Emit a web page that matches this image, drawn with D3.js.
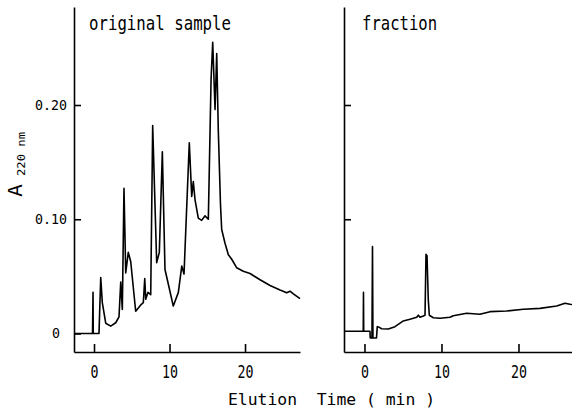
<!DOCTYPE html>
<html>
<head>
<meta charset="utf-8">
<script src="https://cdn.jsdelivr.net/npm/d3@7"></script>
<style>
body { margin: 0; background: #fff; }
text { font-family: "DejaVu Sans Mono", monospace; fill: #000; }
</style>
</head>
<body>
<svg width="572" height="411"></svg>
<script>
// original sample trace (min, absorbance)
var origTime = [-2.65, -0.2, -0.13, -0.1, 0.66, 0.89, 1.10, 1.55, 2.21, 2.87, 3.31, 3.54, 3.75, 3.97, 4.20,
  4.54, 4.86, 5.52, 6.19, 6.53, 6.72, 6.85, 7.15, 7.51, 7.77, 8.30, 8.65, 9.05, 9.40, 9.71, 10.50,
  11.17, 11.62, 11.92, 12.62, 12.94, 13.15, 13.38, 13.81, 14.26, 14.70, 15.14, 15.50, 15.72, 16.03,
  16.25, 16.46, 16.75, 16.91, 17.35, 17.79, 18.24, 18.90, 19.77, 20.66, 21.99, 23.31, 24.64, 25.52,
  25.96, 26.40, 27.28];
var origAbs = [0, 0, 0.036, 0, 0, 0.049, 0.027, 0.009, 0.0064, 0.0094, 0.0146, 0.045, 0.021, 0.127, 0.053,
  0.071, 0.063, 0.0195, 0.025, 0.027, 0.048, 0.030, 0.036, 0.034, 0.182, 0.062, 0.071, 0.159, 0.056, 0.047, 0.024,
  0.036, 0.059, 0.052, 0.167, 0.120, 0.133, 0.117, 0.101, 0.099, 0.103, 0.100, 0.222, 0.255, 0.196,
  0.245, 0.178, 0.113, 0.091, 0.079, 0.069, 0.065, 0.0575, 0.0545, 0.0525, 0.047, 0.042, 0.038, 0.0356,
  0.037, 0.0347, 0.0306];

// fraction trace
var fracTime = [-2.66, -0.16, -0.13, -0.1, 0.71, 0.75, 0.97, 1.04, 1.10, 1.56, 1.66, 1.92, 2.23, 3.09, 3.96,
  5.04, 5.91, 6.78, 6.99, 7.21, 7.64, 7.86, 7.99, 8.12, 8.29, 8.42, 8.94, 9.81, 11.10, 11.53, 13.27,
  15.0, 16.3, 18.47, 20.62, 22.79, 24.96, 26.04, 26.69, 26.95];
var fracAbs = [0.002, 0.002, 0.036, 0.002, 0.002, -0.004, -0.004, 0.076, -0.004, -0.004, 0.006, 0.0054, 0.0042, 0.0039, 0.006,
  0.011, 0.0124, 0.0142, 0.016, 0.0142, 0.0153, 0.016, 0.0693, 0.068, 0.029, 0.016, 0.0138, 0.0133, 0.0142, 0.0156, 0.0177,
  0.0168, 0.0191, 0.0197, 0.0212, 0.022, 0.024, 0.0265, 0.0256, 0.0254];

var xTicks = [0, 10, 20];
var yTicks = [0, 0.1, 0.2];
var yTickLabels = ["0", "0.10", "0.20"];
var panelTitles = ["original sample", "fraction"];

var svg = d3.select("svg");

var y = d3.scaleLinear().domain([-0.0162, 0.2858]).range([352, 7]);

var panels = [
  { title: panelTitles[0], t: origTime, a: origAbs, x: d3.scaleLinear().domain([-2.65, 27.28]).range([74, 300]),
    titleX: 89, titleLen: 142, labels: true },
  { title: panelTitles[1], t: fracTime, a: fracAbs, x: d3.scaleLinear().domain([-2.66, 26.95]).range([344, 572]),
    titleX: 362, titleLen: 75, labels: false }
];

panels.forEach(function(p) {
  var g = svg.append("g");

  // bottom axis, ticks point up into the plot
  var xa = g.append("g")
    .attr("transform", "translate(0,352)")
    .call(d3.axisBottom(p.x).tickValues(xTicks).tickSizeInner(-8).tickSizeOuter(0).tickPadding(13));
  xa.selectAll("text")
    .style("font-size", "18px")
    .attr("textLength", function(d) { return String(d).length * 8; })
    .attr("lengthAdjust", "spacingAndGlyphs");

  // left axis
  var ya = g.append("g")
    .attr("transform", "translate(" + p.x.range()[0] + ",0)")
    .call(d3.axisLeft(y).tickValues(p.labels ? yTicks : yTicks.slice(1))
      .tickSizeInner(-7).tickSizeOuter(0).tickPadding(7)
      .tickFormat(function(d, i) { return p.labels ? yTickLabels[i] : ""; }));
  ya.selectAll("text")
    .style("font-size", "14px")
    .attr("x", function(d) { return d === 0 ? -14 : -7; })
    .attr("textLength", function(d, i) { return p.labels ? yTickLabels[i].length * 8 : 0; })
    .attr("lengthAdjust", "spacingAndGlyphs");

  [xa, ya].forEach(function(a) {
    a.select(".domain").attr("stroke-width", 1.6);
    a.selectAll(".tick line").attr("stroke-width", 1.6);
  });

  g.append("path")
    .datum(d3.zip(p.t, p.a))
    .attr("fill", "none")
    .attr("stroke", "#000")
    .attr("stroke-width", 1.6)
    .attr("stroke-linejoin", "round")
    .attr("d", d3.line().x(function(d) { return p.x(d[0]); }).y(function(d) { return y(d[1]); }));

  g.append("text")
    .attr("x", p.titleX)
    .attr("y", 30)
    .style("font-size", "20px")
    .attr("textLength", p.titleLen)
    .attr("lengthAdjust", "spacingAndGlyphs")
    .text(p.title);
});

// y axis label: A with subscript 220 nm
var yl = svg.append("g").attr("transform", "rotate(-90)");
yl.append("text").attr("x", -197).attr("y", 22).style("font-size", "19px")
  .attr("textLength", 13).attr("lengthAdjust", "spacingAndGlyphs").text("A");
yl.append("text").attr("x", -176).attr("y", 25).style("font-size", "11px")
  .attr("textLength", 44).attr("lengthAdjust", "spacingAndGlyphs").text("220 nm");

// x axis label
svg.append("text")
  .attr("x", 228)
  .attr("y", 405)
  .style("font-size", "16px")
  .style("white-space", "pre")
  .attr("textLength", 207)
  .attr("lengthAdjust", "spacingAndGlyphs")
  .text("Elution  Time ( min )");
</script>
</body>
</html>
